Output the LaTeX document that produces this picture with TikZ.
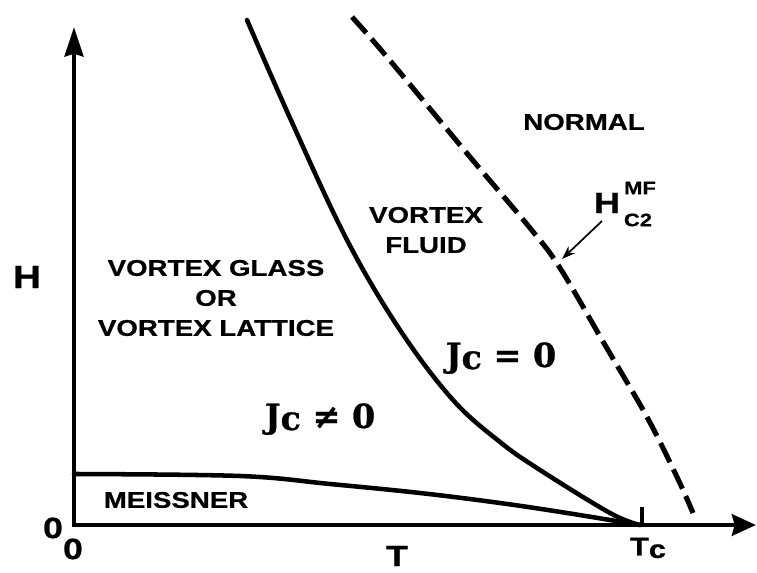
\documentclass[tikz,border=0pt]{standalone}
\usepackage{fontspec}
\setmainfont{Liberation Sans}
\newfontfamily\labfont[FakeStretch=1.22,FakeBold=0.8]{Liberation Sans}
\newfontfamily\jcfont[FakeBold=0.8]{DejaVu Serif}
\usetikzlibrary{arrows.meta}
\begin{document}
\begin{tikzpicture}[x=0.75pt,y=-0.75pt,
  lbl/.style={font=\labfont\bfseries\fontsize{17}{22.5}\selectfont, inner sep=0pt, align=center},
  big/.style={font=\labfont\bfseries\fontsize{22}{24}\selectfont, inner sep=0pt},
  small/.style={font=\labfont\bfseries\fontsize{13.5}{15}\selectfont, inner sep=0pt},
  jc/.style={font=\jcfont\bfseries\fontsize{25}{28}\selectfont, inner sep=0pt, anchor=base},
  axis/.style={line width=3.5pt, line join=miter,
    {Stealth[length=22pt,width=14pt,inset=2pt]}-{Stealth[length=18pt,width=16pt,inset=2pt]}},
  bound/.style={line width=3.4pt, line cap=round, line join=round},
  dashbound/.style={line width=3.8pt, dash pattern=on 16pt off 6pt},
  ptr/.style={line width=1.3pt, -{Stealth[length=10pt,width=7pt]}}]
\useasboundingbox (0,0) rectangle (757,573);

% axes
\coordinate (O) at (74,525);
\coordinate (ytip) at (74,27);
\coordinate (xtip) at (756,525);
\draw[axis] (ytip) -- (O) -- (xtip);

% Tc tick
\coordinate (tcb) at (642,525);
\coordinate (tct) at (642,507);
\draw[line width=2.4pt] (tcb) -- (tct);

% melting line (solid)
\draw[bound] plot[smooth, tension=0.6] coordinates
  {(247,20) (290,118) (347,240) (400,330) (453,400) (500,442) (540,470) (610,513) (640,525)};

% mean field Hc2 (dashed)
\draw[dashbound] plot[smooth, tension=0.6] coordinates
  {(352,17) (387,57) (470,157) (530,228) (560,268) (605,345) (647,417) (677,477) (693,513)};

% Meissner boundary
\draw[bound] plot[smooth, tension=0.6] coordinates
  {(74,474) (240,476) (330,484) (420,493) (500,503) (567,513) (640,525)};

% axis labels
\node[font=\labfont\bfseries\fontsize{24}{26}\selectfont, inner sep=0pt] (Hlab) at (27,277) {H};
\node[big] (zeroL) at (53,528) {0};
\node[big] (zeroB) at (73,549) {0};
\node[big] (Tlab) at (397,556) {T};
\node[font=\labfont\bfseries\fontsize{19}{21}\selectfont, inner sep=0pt] (Tc) at (648,548) {T\raisebox{-2pt}{c}};

% Hc2 label
\node[big] (Hc) at (607,203) {H};
\node[small] (MF) at (640,188) {MF};
\node[small] (C2) at (638,220) {C2};
\coordinate (arrS) at (602,221);
\coordinate (arrE) at (562,259);
\draw[ptr] (arrS) -- (arrE);

% region labels
\node[lbl] (normal) at (584,122) {NORMAL};
\node[lbl] (fluid) at (426,230) {VORTEX\\FLUID};
\node[lbl] (glass) at (216,298) {VORTEX GLASS\\OR\\VORTEX LATTICE};
\node[lbl] (meiss) at (176,500) {MEISSNER};

\node[jc] (jcn) at (320,428) {J\raisebox{-1.5pt}{c} ≠ 0};
\node[jc] (jce) at (501,367) {J\raisebox{-1.5pt}{c} = 0};
\end{tikzpicture}
\end{document}
